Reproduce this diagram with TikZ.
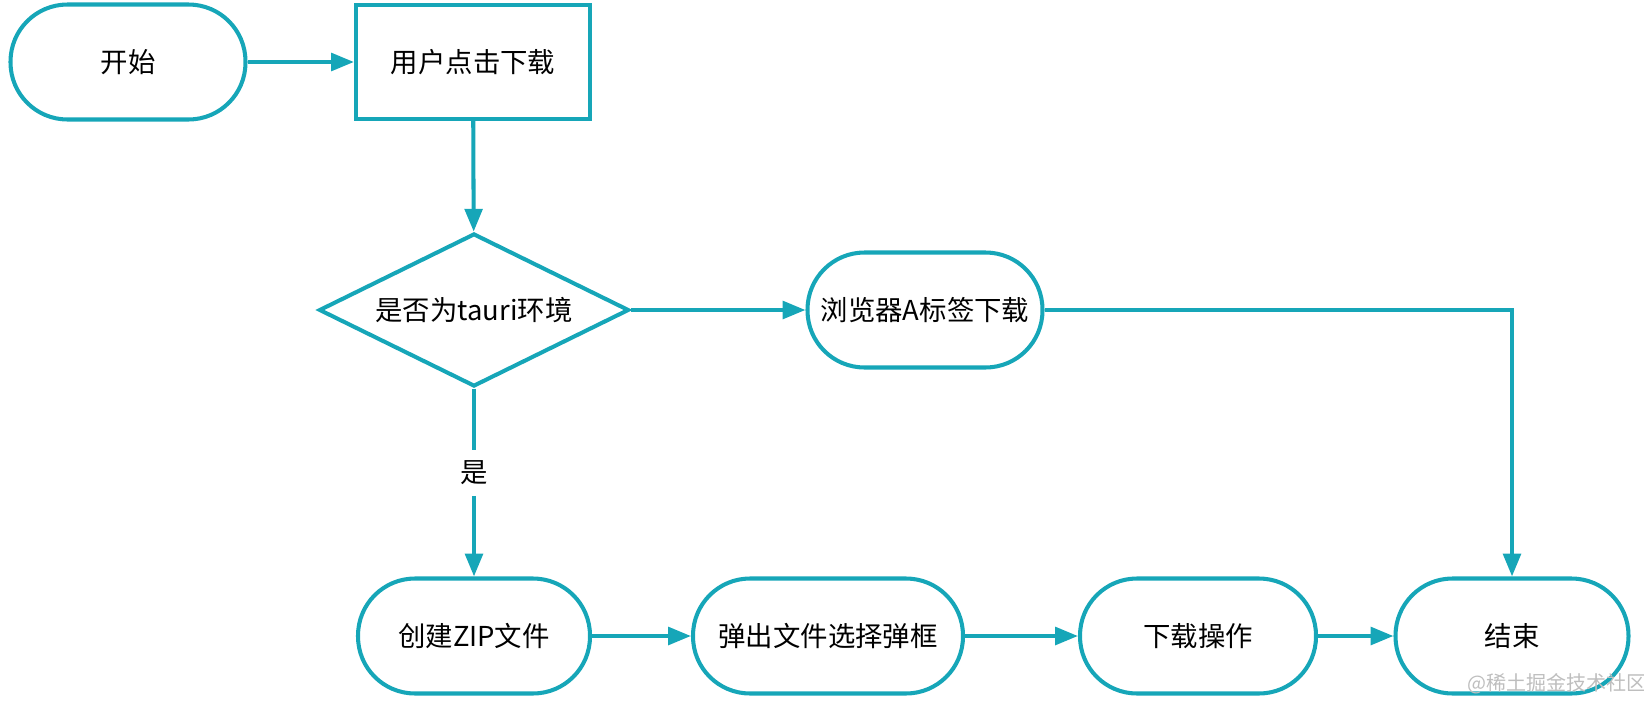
\documentclass[tikz,border=0pt]{standalone}
\usepackage{fontspec}
\setmainfont{Noto Sans CJK SC}
\usepackage{tikz}
\usetikzlibrary{arrows.meta,shapes.geometric}
\definecolor{flow-teal}{RGB}{22,166,184}
\definecolor{mark-gray}{RGB}{190,190,190}
\tikzstyle{flowline}=[draw=flow-teal, line width=2.3pt]
\tikzstyle{flowarrow}=[flowline, -{Triangle[length=13pt,width=10pt]}]
\tikzstyle{pill}=[flowline, rounded corners=1.14cm, minimum height=2.3cm, inner sep=0pt, font=\fontsize{15.6}{18}\selectfont]
\tikzstyle{stepbox}=[flowline, rectangle, minimum width=4.68cm, minimum height=2.28cm, inner sep=0pt, font=\fontsize{15.6}{18}\selectfont]
\tikzstyle{choice}=[flowline, diamond, minimum width=6.2cm, minimum height=3.06cm, inner sep=0pt, aspect=2, font=\fontsize{15.6}{18}\selectfont]

\begin{document}
\begin{tikzpicture}
	\useasboundingbox (0,0) rectangle (32.88,-14);
	\node[pill, minimum width=4.7cm] (start) at (2.56,-1.24) {开始};
	\node[stepbox] (click) at (9.46,-1.24) {用户点击下载};
	\node[choice] (istauri) at (9.48,-6.2) {是否为tauri环境};
	\node[pill, minimum width=4.7cm] (browser) at (18.5,-6.2) {浏览器A标签下载};
	\node[pill, minimum width=4.64cm] (zip) at (9.48,-12.72) {创建ZIP文件};
	\node[pill, minimum width=5.4cm] (dialog) at (16.56,-12.72) {弹出文件选择弹框};
	\node[pill, minimum width=4.72cm] (save) at (23.96,-12.72) {下载操作};
	\node[pill, minimum width=4.66cm] (finish) at (30.24,-12.72) {结束};
	\node[inner sep=6pt, font=\fontsize{15.6}{18}\selectfont] (yes) at (9.48,-9.46) {是};
	\draw[flowarrow] (start) -- (click);
	\draw[flowarrow] (click) -- (istauri);
	\draw[flowarrow] (istauri) -- (browser);
	\draw[flowarrow] (browser.east) -| (finish.north);
	\draw[flowline] (istauri.south) -- (yes);
	\draw[flowarrow] (yes) -- (zip);
	\draw[flowarrow] (zip) -- (dialog);
	\draw[flowarrow] (dialog) -- (save);
	\draw[flowarrow] (save) -- (finish);
	\node[text=mark-gray, font=\fontsize{11.4}{13}\selectfont] (mark) at (31.14,-13.68) {@稀土掘金技术社区};
\end{tikzpicture}
\end{document}
